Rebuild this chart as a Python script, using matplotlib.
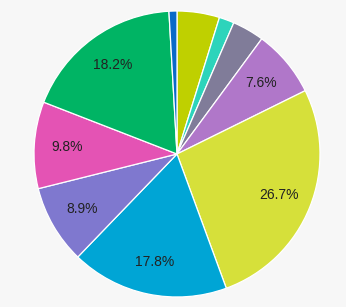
import matplotlib
matplotlib.use("Agg")
import matplotlib.pyplot as plt

# slices clockwise from 12 o'clock
VALUES = [4.8, 1.7, 3.6, 7.6, 26.7, 17.8, 8.9, 9.8, 18.2, 0.9]
COLORS = ["#bfd000", "#2dd4bb", "#807c99", "#b077c9", "#d6e03a",
          "#00a5d5", "#7f78cf", "#e453b4", "#00b464", "#0a6ac8"]
BG = "#f7f7f7"


def pct_label(p):
    if p < 5:
        return ""
    return "{:.1f}%".format(p)


def main():
    fig = plt.figure(figsize=(3.46, 3.07), dpi=100)
    fig.patch.set_facecolor(BG)
    cx, cy, r = 177, 154, 143
    ax = fig.add_axes([(cx - r) / 346, (307 - cy - r) / 307, 2 * r / 346, 2 * r / 307])
    ax.set_facecolor(BG)

    wedges, texts, autotexts = ax.pie(
        VALUES, colors=COLORS, startangle=90, counterclock=False,
        autopct=pct_label, pctdistance=0.77,
        wedgeprops=dict(edgecolor="white", linewidth=0.9),
        textprops=dict(family="Liberation Sans", fontsize=10, color="#222222"))

    ax.set_xlim(-1, 1)
    ax.set_ylim(-1, 1)
    ax.axis("off")

    fig.savefig("out.png", dpi=100, facecolor=BG)


if __name__ == "__main__":
    main()
